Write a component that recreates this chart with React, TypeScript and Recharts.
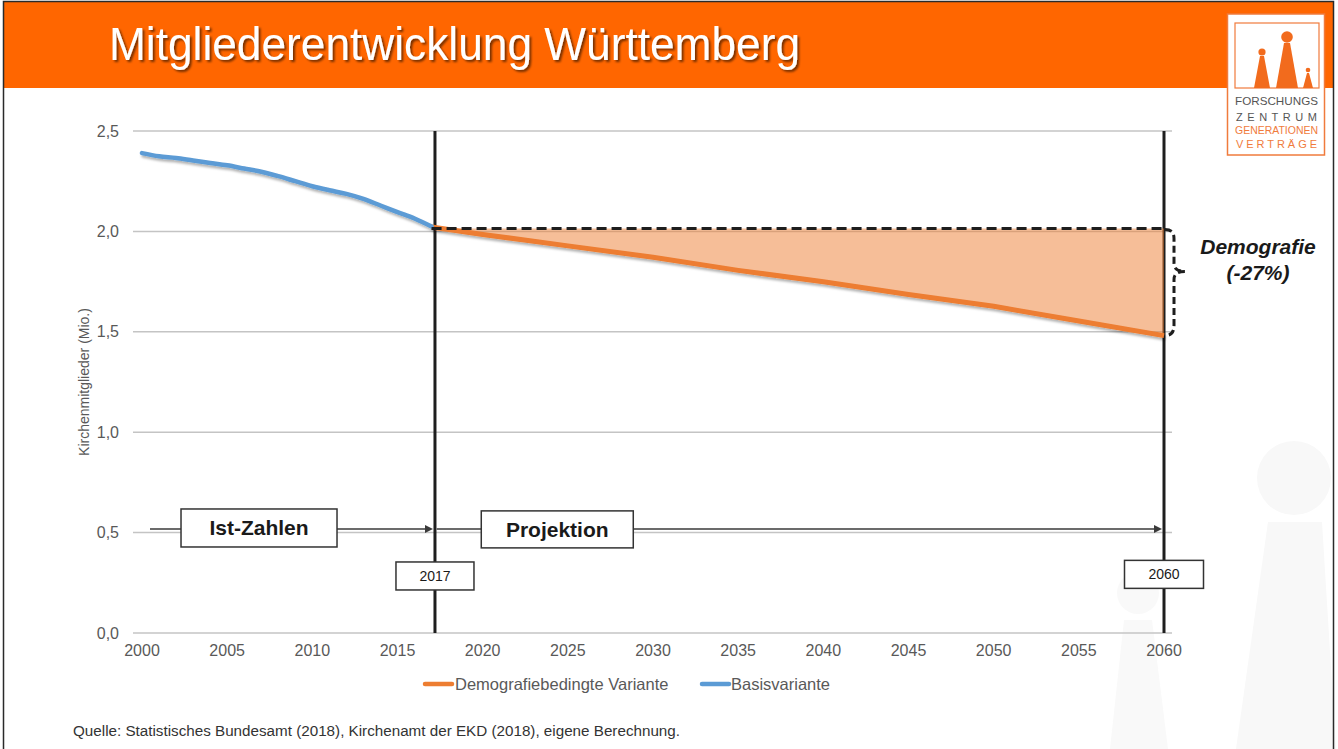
import React from "react"
import {
  Area,
  CartesianGrid,
  ComposedChart,
  Line,
  ReferenceDot,
  ReferenceLine,
  XAxis,
  YAxis,
} from "recharts"

// Ist-Zahlen (Mio. Kirchenmitglieder)
const istJahre = [
  2000, 2001, 2002, 2003, 2004, 2005, 2006, 2007, 2008, 2009, 2010, 2011, 2012, 2013, 2014, 2015,
  2016, 2017,
]
const basisvariante = [
  2.39, 2.374, 2.366, 2.353, 2.341, 2.329, 2.313, 2.297, 2.275, 2.25, 2.225, 2.205, 2.187, 2.162,
  2.129, 2.096, 2.064, 2.024,
]

// Projektion
const projektionJahre = [2017, 2020, 2025, 2030, 2035, 2040, 2045, 2050, 2055, 2060]
const demografieVariante = [2.022, 1.985, 1.928, 1.871, 1.806, 1.749, 1.686, 1.627, 1.554, 1.481]
const statusQuoNiveau = 2.015

const xTicks = [2000, 2005, 2010, 2015, 2020, 2025, 2030, 2035, 2040, 2045, 2050, 2055, 2060]
const yTicks = [0, 0.5, 1, 1.5, 2, 2.5]

const FONT = "'Liberation Sans', Arial, sans-serif"
const GREY = "#595959"
const ORANGE = "#ED7D31"
const BLUE = "#5B9BD5"
const DARK = "#1e1e1e"

const jahre = Array.from(new Set([...istJahre, ...projektionJahre])).sort((a, b) => a - b)
const data = jahre.map((year) => {
  const bi = istJahre.indexOf(year)
  const di = projektionJahre.indexOf(year)
  return {
    year,
    basis: bi >= 0 ? basisvariante[bi] : null,
    demo: di >= 0 ? demografieVariante[di] : null,
    band: di >= 0 ? [demografieVariante[di], statusQuoNiveau] : null,
    niveau: di >= 0 ? statusQuoNiveau : null,
  }
})

const fmt = (v: number) => v.toFixed(1).replace(".", ",")

function Arrow(props: any) {
  const { x1, y1, x2, y2 } = props
  const tip = x2 - 2
  return (
    <g>
      <line x1={x1} y1={y1} x2={tip - 6} y2={y2} stroke="#3a3a3a" strokeWidth={1.6} />
      <polygon points={`${tip},${y2} ${tip - 8},${y2 - 4} ${tip - 8},${y2 + 4}`} fill="#3a3a3a" />
    </g>
  )
}

function makeBox(text: string, w: number, h: number, size: number, bold: boolean) {
  return (props: any) => {
    const { cx, cy } = props
    return (
      <g>
        <rect x={cx - w / 2} y={cy - h / 2} width={w} height={h} fill="#fff" stroke="#333" strokeWidth={1.5} />
        <text
          x={cx}
          y={cy}
          textAnchor="middle"
          dominantBaseline="central"
          fontFamily={FONT}
          fontSize={size}
          fontWeight={bold ? 700 : 400}
          fill="#1a1a1a"
        >
          {text}
        </text>
      </g>
    )
  }
}

function Brace(props: any) {
  const { x1, y1, y2 } = props
  const x0 = x1
  const ym = y1 + 43
  const d = `M ${x0 + 1} ${y1 + 1} Q ${x0 + 10} ${y1 + 1} ${x0 + 10} ${y1 + 10} L ${x0 + 10} ${ym - 8} Q ${x0 + 10} ${ym} ${x0 + 21} ${ym} Q ${x0 + 10} ${ym} ${x0 + 10} ${ym + 8} L ${x0 + 10} ${y2 - 10} Q ${x0 + 10} ${y2} ${x0 + 1} ${y2}`
  return (
    <g>
      <path d={d} fill="none" stroke={DARK} strokeWidth={3} strokeDasharray="7 4" />
      <text x={x0 + 94} y={y1 + 18} textAnchor="middle" dominantBaseline="central" fontFamily={FONT} fontSize={21} fontWeight={700} fontStyle="italic" fill="#1a1a1a">
        Demografie
      </text>
      <text x={x0 + 94} y={y1 + 44} textAnchor="middle" dominantBaseline="central" fontFamily={FONT} fontSize={21} fontWeight={700} fontStyle="italic" fill="#1a1a1a">
        (-27%)
      </text>
    </g>
  )
}

function YLabel(props: any) {
  const { viewBox } = props
  const x = viewBox.x + 11
  const y = viewBox.y + viewBox.height / 2
  return (
    <text x={x} y={y} transform={`rotate(-90, ${x}, ${y})`} textAnchor="middle" dominantBaseline="central" fontFamily={FONT} fontSize={14} fill={GREY}>
      Kirchenmitglieder (Mio.)
    </text>
  )
}

export default function App() {
  const tick = { fontFamily: FONT, fontSize: 16, fill: GREY }
  return (
    <div style={{ position: "absolute", left: 0, top: 0, width: 1338, height: 749, background: "#fff", overflow: "hidden" }}>
      <style>{`.shadowed path { filter: url(#lineShadow); }`}</style>
      {/* watermark */}
      <svg width={1338} height={749} style={{ position: "absolute", left: 0, top: 0 }}>
        <circle cx={1294} cy={478} r={37} fill="#F8F8F8" />
        <polygon points="1268,522 1322,522 1336,749 1236,749" fill="#F8F8F8" />
        <circle cx={1138} cy={593} r={21} fill="#F9F9F9" />
        <polygon points="1124,620 1152,620 1168,749 1110,749" fill="#F9F9F9" />
      </svg>

      <div style={{ position: "absolute", left: 0, top: 0 }}>
        <ComposedChart width={1338} height={749} data={data} margin={{ top: 131, right: 166, bottom: 86, left: 73 }}>
          <defs>
            <filter id="lineShadow" x="-5%" y="-30%" width="110%" height="160%">
              <feDropShadow dx={1.5} dy={2.5} stdDeviation={1.2} floodColor="#000" floodOpacity={0.3} />
            </filter>
          </defs>
          <CartesianGrid vertical={false} stroke="#C4C4C4" strokeWidth={1.5} />
          <XAxis
            dataKey="year"
            type="number"
            domain={[2000, 2060]}
            ticks={xTicks}
            padding={{ left: 9, right: 8 }}
            axisLine={false}
            tickLine={false}
            tickSize={0}
            tickMargin={12}
            height={30}
            tick={tick}
          />
          <YAxis
            domain={[0, 2.5]}
            ticks={yTicks}
            width={60}
            axisLine={false}
            tickLine={false}
            tickSize={0}
            tickMargin={14}
            tick={tick}
            tickFormatter={fmt}
            label={{ content: YLabel }}
          />
          <ReferenceLine x={2017.2} stroke={DARK} strokeWidth={3} zIndex={50} />
          <ReferenceLine x={2060} stroke={DARK} strokeWidth={3} zIndex={50} />
          <Area
            dataKey="band"
            type="linear"
            fill={ORANGE}
            fillOpacity={0.5}
            stroke="none"
            connectNulls
            isAnimationActive={false}
            zIndex={100}
          />
          <Line
            dataKey="niveau"
            type="linear"
            stroke={DARK}
            strokeWidth={3}
            strokeDasharray="10 5"
            dot={false}
            connectNulls
            isAnimationActive={false}
            zIndex={220}
          />
          <Line
            dataKey="demo"
            type="linear"
            className="shadowed"
            stroke={ORANGE}
            strokeWidth={5}
            dot={false}
            connectNulls
            isAnimationActive={false}
            zIndex={200}
          />
          <Line
            dataKey="basis"
            type="monotone"
            className="shadowed"
            stroke={BLUE}
            strokeWidth={4.5}
            strokeLinecap="round"
            dot={false}
            connectNulls
            isAnimationActive={false}
            zIndex={210}
          />
          <ReferenceLine segment={[{ x: 2000.47, y: 0.518 }, { x: 2017.2, y: 0.518 }]} shape={Arrow} zIndex={300} />
          <ReferenceLine segment={[{ x: 2017.3, y: 0.518 }, { x: 2060, y: 0.518 }]} shape={Arrow} zIndex={300} />
          <ReferenceDot x={2006.87} y={0.523} r={1} shape={makeBox("Ist-Zahlen", 156, 38, 21, true)} zIndex={310} />
          <ReferenceDot x={2024.38} y={0.516} r={1} shape={makeBox("Projektion", 152, 37, 21, true)} zIndex={310} />
          <ReferenceDot x={2017.2} y={0.284} r={1} shape={makeBox("2017", 78, 28, 14, false)} zIndex={310} />
          <ReferenceDot x={2060} y={0.292} r={1} shape={makeBox("2060", 79, 28, 14, false)} zIndex={310} />
          <ReferenceLine
            segment={[{ x: 2060, y: statusQuoNiveau }, { x: 2060, y: demografieVariante[demografieVariante.length - 1] }]}
            shape={Brace}
            zIndex={320}
          />
        </ComposedChart>
      </div>

      {/* slide frame, header, logo, legend, source */}
      <svg width={1338} height={749} style={{ position: "absolute", left: 0, top: 0, pointerEvents: "none" }}>
        <defs>
          <filter id="titleShadow" x="-5%" y="-20%" width="110%" height="150%">
            <feDropShadow dx={2} dy={2} stdDeviation={1} floodColor="#000" floodOpacity={0.55} />
          </filter>
        </defs>
        <rect x={4} y={2} width={1329} height={86} fill="#FF6600" />
        <rect x={3.5} y={1.5} width={1330} height={760} fill="none" stroke="#2a2a2a" strokeWidth={1.5} />
        <text
          x={109}
          y={60}
          fontFamily={FONT}
          fontSize={46}
          fill="#fff"
          textLength={691}
          lengthAdjust="spacingAndGlyphs"
          filter="url(#titleShadow)"
        >
          Mitgliederentwicklung Württemberg
        </text>

        {/* logo */}
        <rect x={1227.5} y={14} width={97} height={141} fill="#fff" stroke="#F07B3C" strokeWidth={1.5} />
        <rect x={1235} y={23} width={84} height={65} fill="none" stroke="#F07B3C" strokeWidth={1.2} />
        <circle cx={1262} cy={52} r={3.6} fill="#F26B1D" />
        <polygon points="1260,56 1264,56 1270,88 1254,88" fill="#F26B1D" />
        <circle cx={1287} cy={37} r={5.8} fill="#F26B1D" />
        <polygon points="1284,43 1290,43 1298,88 1276,88" fill="#F26B1D" />
        <circle cx={1308} cy={70} r={2.3} fill="#F26B1D" />
        <polygon points="1307,73 1309,73 1313,88 1303,88" fill="#F26B1D" />
        <text x={1235} y={105} fontFamily={FONT} fontSize={11} fill="#555" textLength={83} lengthAdjust="spacingAndGlyphs">FORSCHUNGS</text>
        <text x={1236} y={121} fontFamily={FONT} fontSize={11} fill="#555" textLength={81} lengthAdjust="spacing">ZENTRUM</text>
        <text x={1235} y={134} fontFamily={FONT} fontSize={10.5} fill="#F07B3C" textLength={83} lengthAdjust="spacingAndGlyphs">GENERATIONEN</text>
        <text x={1236} y={148} fontFamily={FONT} fontSize={11} fill="#F07B3C" textLength={81} lengthAdjust="spacing">VERTRÄGE</text>

        {/* legend */}
        <line x1={425} y1={684} x2={452} y2={684} stroke={ORANGE} strokeWidth={4.5} strokeLinecap="round" />
        <text x={455} y={684} dominantBaseline="central" fontFamily={FONT} fontSize={16.5} fill={GREY}>
          Demografiebedingte Variante
        </text>
        <line x1={702} y1={684} x2={729} y2={684} stroke={BLUE} strokeWidth={4.5} strokeLinecap="round" />
        <text x={731} y={684} dominantBaseline="central" fontFamily={FONT} fontSize={16.5} fill={GREY}>
          Basisvariante
        </text>

        <text x={73} y={736} fontFamily={FONT} fontSize={14} fill="#333" textLength={607} lengthAdjust="spacingAndGlyphs">
          Quelle: Statistisches Bundesamt (2018), Kirchenamt der EKD (2018), eigene Berechnung.
        </text>
      </svg>
    </div>
  )
}
